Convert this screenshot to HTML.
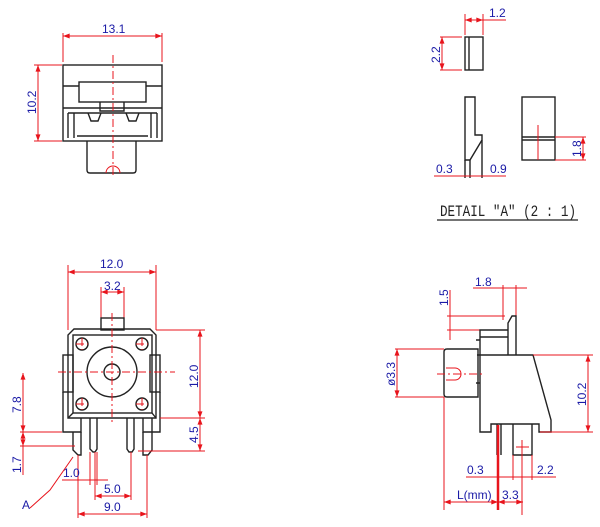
<!DOCTYPE html>
<html><head><meta charset="utf-8"><style>
body{margin:0;background:#fff}
svg{display:block}
text{font-family:"Liberation Sans",sans-serif;font-size:12px;fill:#1a1aa6}
.k{stroke:#222;stroke-width:1.4;fill:none}
.r{stroke:#e8141c;stroke-width:1;fill:none}
.d{stroke:#e8141c;stroke-width:1;fill:none;stroke-dasharray:8,3,2,3}
</style></head><body>
<svg width="600" height="527" viewBox="0 0 600 527" xmlns="http://www.w3.org/2000/svg">
<defs>
<marker id="a" viewBox="0 0 8 6" refX="8" refY="3" markerWidth="7" markerHeight="5" orient="auto-start-reverse"><path d="M0,0L8,3L0,6z" fill="#e8141c"/></marker>
</defs>

<!-- TOP LEFT VIEW -->
<g>
<path class="r" d="M63,33V62M162,33V62"/>
<line class="r" x1="63" y1="36" x2="162" y2="36" marker-start="url(#a)" marker-end="url(#a)"/>
<text x="102" y="33">13.1</text>
<path class="r" d="M34,65H62M34,141H62"/>
<line class="r" x1="38" y1="65" x2="38" y2="141" marker-start="url(#a)" marker-end="url(#a)"/>
<text transform="translate(36,114) rotate(-90)">10.2</text>
<rect class="k" x="63" y="65" width="99" height="76"/>
<path class="k" d="M63,86H79M146,86H162"/>
<rect class="k" x="79" y="82" width="67" height="20"/>
<path class="k" d="M63,108H162M68,113H157M68,113V138M157,113V138M74,113V138M151,113V138M100,102V111H124V102"/>
<path class="k" d="M88,113L91,121H98L101,113M126,113L129,121H136L139,113"/>
<path class="k" d="M77,136H148"/>
<path class="k" d="M87,141V170Q87,173 90,173H133Q136,173 136,170V141"/>
<path class="r" d="M106,173A7,7 0 0 1 120,173"/>
<line class="d" x1="113" y1="55" x2="113" y2="176"/>
</g>

<!-- BOTTOM LEFT VIEW -->
<g>
<path class="r" d="M68,265V330M156,265V330M101,287V318M124,287V318"/>
<line class="r" x1="68" y1="272" x2="156" y2="272" marker-start="url(#a)" marker-end="url(#a)"/>
<text x="100" y="268">12.0</text>
<line class="r" x1="101" y1="292" x2="124" y2="292" marker-start="url(#a)" marker-end="url(#a)"/>
<text x="104" y="290">3.2</text>
<rect class="k" x="101" y="318" width="23" height="12"/>
<path class="k" d="M74,329H150L156,335V418H68V335Z"/>
<rect class="k" x="73" y="335" width="79" height="78"/>
<path class="k" d="M73,413L68,418M152,413L156,418"/>
<rect class="k" x="63" y="355" width="10" height="37"/>
<rect class="k" x="150" y="355" width="10" height="37"/>
<circle class="k" cx="112" cy="372" r="25" stroke-width="2"/>
<circle class="k" cx="112" cy="372" r="8"/>
<circle class="k" cx="82" cy="344" r="6"/><circle class="k" cx="142" cy="344" r="6"/>
<circle class="k" cx="82" cy="404" r="6"/><circle class="k" cx="142" cy="404" r="6"/>
<path class="d" d="M76,344H88M82,338V350M136,344H148M142,338V350M76,404H88M82,398V410M136,404H148M142,398V410M112,313V425M58,372H175"/>
<path class="k" d="M63,392V432H81V418M160,392V432H143V418"/>
<path class="k" d="M73,432V450L78,455H81V432M143,432V455H148L152,450V432M152,418V432"/>
<path class="k" d="M90,418V449L93,452H95L97,449V418M127,418V449L129,452H132L134,449V418"/>
<path class="r" d="M156,330H205M160,418H205M138,451H205"/>
<line class="r" x1="200" y1="330" x2="200" y2="418" marker-start="url(#a)" marker-end="url(#a)"/>
<line class="r" x1="200" y1="418" x2="200" y2="451" marker-start="url(#a)" marker-end="url(#a)"/>
<text transform="translate(198,388) rotate(-90)">12.0</text>
<text transform="translate(198,443) rotate(-90)">4.5</text>
<path class="r" d="M20,432H62M20,446H75"/>
<line class="r" x1="23" y1="373" x2="23" y2="432" marker-start="url(#a)" marker-end="url(#a)"/>
<line class="r" x1="23" y1="432" x2="23" y2="446" marker-start="url(#a)" marker-end="url(#a)"/>
<line class="r" x1="23" y1="446" x2="23" y2="475"/>
<text transform="translate(21,413) rotate(-90)">7.8</text>
<text transform="translate(21,473) rotate(-90)">1.7</text>
<path class="r" d="M90,452V485M97,452V485M95,452V500M131,452V500M78,455V518M147,455V518"/>
<path class="r" d="M62,480H108"/>
<text x="63" y="477">1.0</text>
<line class="r" x1="95" y1="496" x2="131" y2="496" marker-start="url(#a)" marker-end="url(#a)"/>
<text x="104" y="493">5.0</text>
<line class="r" x1="78" y1="514" x2="147" y2="514" marker-start="url(#a)" marker-end="url(#a)"/>
<text x="104" y="511">9.0</text>
<path class="r" d="M30,508L50,490L73,457"/>
<text x="22" y="509">A</text>
</g>

<!-- DETAIL A -->
<g>
<path class="r" d="M465,14V35M483,14V35M462,37H440M462,70H440"/>
<line class="r" x1="465" y1="20" x2="483" y2="20" marker-start="url(#a)" marker-end="url(#a)"/>
<line class="r" x1="483" y1="20" x2="506" y2="20"/>
<text x="489" y="17">1.2</text>
<line class="r" x1="442" y1="37" x2="442" y2="70" marker-start="url(#a)" marker-end="url(#a)"/>
<text transform="translate(440,63) rotate(-90)">2.2</text>
<rect class="k" x="465" y="37" width="18" height="33"/>
<path class="k" d="M469,37V70"/>
<path class="k" d="M465,97H475V135H482V140L470,160H465Z"/>
<path class="k" d="M465,160V178M470,160V178M482,140V178"/>
<path class="r" d="M434,176H470M470,176H506"/>
<text x="436" y="173">0.3</text>
<text x="490" y="173">0.9</text>
<rect class="k" x="522" y="97" width="33" height="63"/>
<path class="k" d="M522,137H555M522,140H555"/>
<path class="r" d="M538,125V160M555,137H586M555,160H586"/>
<line class="r" x1="583" y1="137" x2="583" y2="160" marker-start="url(#a)" marker-end="url(#a)"/>
<text transform="translate(581,157) rotate(-90)">1.8</text>
<text x="440" y="216" textLength="136" lengthAdjust="spacingAndGlyphs" style="fill:#222;font-family:'Liberation Mono',monospace;font-size:16px">DETAIL "A" (2 : 1)</text>
<path d="M437,220H578" stroke="#222" stroke-width="1.2"/>
</g>

<!-- BOTTOM RIGHT VIEW -->
<g>
<path class="r" d="M503,285V320M516,285V316M473,288H527"/>
<text x="475" y="286">1.8</text>
<path class="r" d="M447,316H505M447,330H480"/>
<line class="r" x1="450" y1="290" x2="450" y2="340"/>
<text transform="translate(448,306) rotate(-90)">1.5</text>
<path class="k" d="M480,355V330H508V355M480,337H508M508,355V323L512,316H516V355"/>
<path class="k" d="M447,349H478V397H447Q444,397 444,394V352Q444,349 447,349Z"/>
<path class="k" d="M477,355H533L551,420V432H539V424H491V432H480V355"/>
<path class="k" d="M476,340H480M476,383H480"/>
<path class="r" d="M446,368H455A6,6 0 0 1 455,380H446"/>
<path class="d" d="M437,374H485"/>
<path class="r" d="M395,349H444M395,397H444M533,355H593M540,432H593"/>
<line class="r" x1="397" y1="349" x2="397" y2="397" marker-start="url(#a)" marker-end="url(#a)"/>
<text transform="translate(395,386) rotate(-90)">ø3.3</text>
<line class="r" x1="588" y1="355" x2="588" y2="432" marker-start="url(#a)" marker-end="url(#a)"/>
<text transform="translate(586,406) rotate(-90)">10.2</text>
<path class="k" d="M497,424V455M501,424V455M513,424V455H532V424"/>
<path d="M498,425V510" stroke="#e8141c" stroke-width="2.5"/>
<path class="r" d="M513,455V480M532,455V480M522,440V515M444,397V510"/>
<path class="r" d="M466,477H530M513,477H556M516,447H529"/>
<text x="467" y="474">0.3</text>
<text x="537" y="474">2.2</text>
<line class="r" x1="444" y1="502" x2="498" y2="502" marker-start="url(#a)" marker-end="url(#a)"/>
<line class="r" x1="498" y1="502" x2="523" y2="502" marker-start="url(#a)" marker-end="url(#a)"/>
<text x="457" y="499">L(mm)</text>
<text x="502" y="499">3.3</text>
</g>
</svg>
</body></html>
